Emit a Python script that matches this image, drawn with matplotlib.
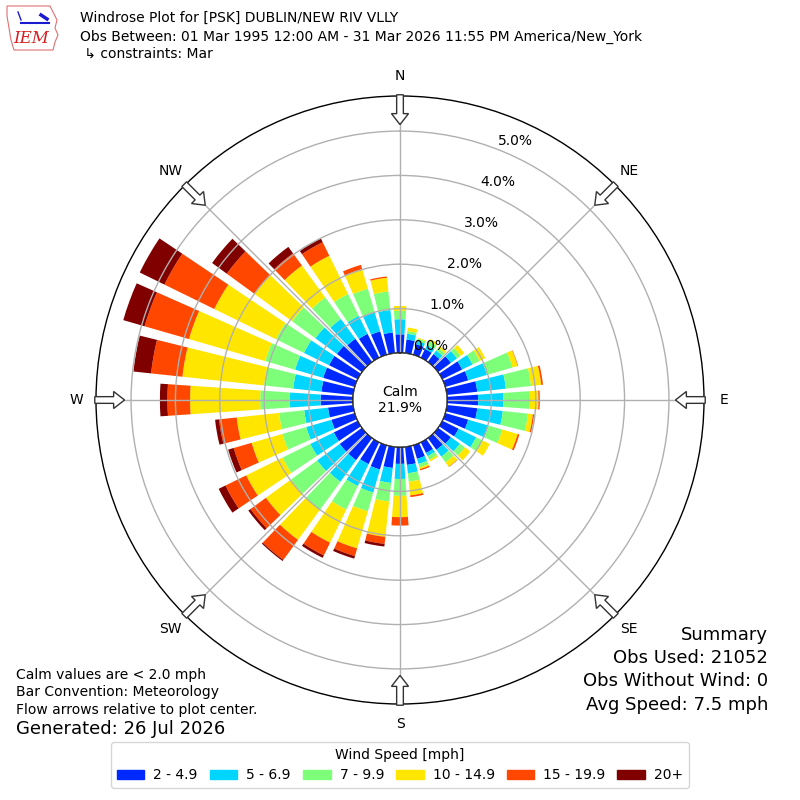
import numpy as np
import matplotlib
matplotlib.use("Agg")
import matplotlib.pyplot as plt
from matplotlib.patches import Circle, FancyArrow, Rectangle, Polygon

# direction of each bar (deg, meteorological: wind coming from)
directions = np.arange(0, 360, 10)

# percent of obs in each speed class, per direction (0, 10, ..., 350)
spd_2_5 = [0.42, 0.31, 0.25, 0.22, 0.22, 0.36, 0.50, 0.54, 0.69, 0.70, 0.69, 0.54,
           0.41, 0.36, 0.33, 0.27, 0.32, 0.41, 0.38, 0.48, 0.57, 0.55, 0.62, 0.62,
           0.60, 0.55, 0.57, 0.73, 0.72, 0.74, 0.72, 0.70, 0.65, 0.60, 0.55, 0.47]
spd_5_7 = [0.34, 0.13, 0.08, 0.10, 0.10, 0.17, 0.26, 0.44, 0.65, 0.57, 0.58, 0.48,
           0.44, 0.25, 0.19, 0.08, 0.12, 0.19, 0.34, 0.34, 0.54, 0.55, 0.60, 0.63,
           0.59, 0.59, 0.54, 0.69, 0.64, 0.66, 0.63, 0.60, 0.55, 0.45, 0.44, 0.51]
spd_7_10 = [0.19, 0.06, 0.05, 0.10, 0.08, 0.10, 0.18, 0.60, 0.57, 0.60, 0.57, 0.32,
            0.17, 0.14, 0.16, 0.09, 0.08, 0.19, 0.38, 0.42, 0.44, 0.59, 0.78, 0.73,
            0.70, 0.56, 0.57, 0.67, 0.66, 0.70, 0.70, 0.65, 0.60, 0.55, 0.56, 0.42]
spd_10_15 = [0.11, 0.08, 0.02, 0.05, 0.05, 0.10, 0.14, 0.12, 0.23, 0.19, 0.11, 0.36,
             0.17, 0.15, 0.12, 0.04, 0.04, 0.31, 0.48, 0.80, 0.87, 0.83, 0.84, 0.70,
             0.91, 0.72, 0.96, 1.58, 1.85, 1.79, 1.55, 1.05, 0.89, 0.96, 0.46, 0.31]
spd_15_20 = [0.00, 0.00, 0.00, 0.00, 0.00, 0.00, 0.00, 0.01, 0.04, 0.03, 0.03, 0.04,
             0.00, 0.00, 0.01, 0.00, 0.03, 0.04, 0.19, 0.16, 0.18, 0.32, 0.56, 0.43,
             0.52, 0.42, 0.40, 0.51, 0.71, 1.04, 1.25, 0.77, 0.34, 0.34, 0.10, 0.03]
spd_20 = [0.00, 0.00, 0.00, 0.00, 0.00, 0.00, 0.00, 0.00, 0.00, 0.00, 0.00, 0.00,
          0.00, 0.00, 0.00, 0.00, 0.00, 0.00, 0.00, 0.06, 0.06, 0.06, 0.03, 0.06,
          0.17, 0.13, 0.09, 0.17, 0.40, 0.50, 0.62, 0.41, 0.18, 0.09, 0.00, 0.00]

speed_labels = ["2 - 4.9", "5 - 6.9", "7 - 9.9", "10 - 14.9", "15 - 19.9", "20+"]
compass = ["N", "NE", "E", "SE", "S", "SW", "W", "NW"]
rticks = [0, 1, 2, 3, 4, 5]
calm_pct = 21.9

bins = [spd_2_5, spd_5_7, spd_7_10, spd_10_15, spd_15_20, spd_20]
colors = plt.cm.jet(np.linspace(0, 1, 7)[1:])

fig = plt.figure(figsize=(8, 8), dpi=100)
ax = fig.add_axes([0.12, 0.12, 0.76, 0.76], projection="polar")
ax.set_theta_zero_location("N")
ax.set_theta_direction(-1)
ax.set_axisbelow(False)

theta = np.deg2rad(directions)
width = np.deg2rad(10) * 0.78
base = np.zeros(len(directions))
for vals, c, lab in zip(bins, colors, speed_labels):
    vals = np.array(vals)
    ax.bar(theta, vals, width=width, bottom=base, color=c, label=lab,
           linewidth=0, zorder=1)
    base = base + vals

rmax = 5.79
r0 = 1.06
ax.set_ylim(0, rmax)
ax.set_rorigin(-r0)
ax.set_yticks(rticks)
ax.set_yticklabels([])
ax.set_xticks(np.deg2rad(np.arange(0, 360, 45)))
ax.set_xticklabels([])
ax.grid(True, color="#b0b0b0", linewidth=1)
ax.spines["polar"].set_linewidth(1)

# radial labels, a little outside each ring along 22.5 deg
for t in rticks:
    rr = (t + r0) / (rmax + r0) * 0.5
    ang = np.deg2rad(22.5)
    ax.text(0.5 + rr * np.sin(ang) + 0.02, 0.5 + rr * np.cos(ang) + 0.018,
            "%.1f%%" % t, transform=ax.transAxes, ha="center", va="center",
            fontsize=10, zorder=4)

# calm circle in the middle
calm_r = r0 / (rmax + r0) * 0.5
ax.add_patch(Circle((0.5, 0.5), calm_r, transform=ax.transAxes, facecolor="white",
                    edgecolor="black", linewidth=1, zorder=3))
ax.text(0.5, 0.5, "Calm\n%.1f%%" % calm_pct, transform=ax.transAxes, ha="center",
        va="center", fontsize=10, zorder=4)

# compass labels and inward flow arrows
for i, name in enumerate(compass):
    a = np.deg2rad(i * 45)
    ax.text(0.5 + 0.533 * np.sin(a), 0.5 + 0.533 * np.cos(a), name,
            transform=ax.transAxes, ha="center", va="center", fontsize=10)
    x0 = 0.5 + 0.502 * np.sin(a)
    y0 = 0.5 + 0.502 * np.cos(a)
    ax.add_patch(FancyArrow(x0, y0, -0.049 * np.sin(a), -0.049 * np.cos(a),
                            width=0.011, head_width=0.028, head_length=0.018,
                            length_includes_head=True, transform=ax.transAxes,
                            facecolor="white", edgecolor="#333333", linewidth=1,
                            clip_on=False, zorder=5))

# header
fig.text(0.1, 0.9775, "Windrose Plot for [PSK] DUBLIN/NEW RIV VLLY", fontsize=10, va="center")
fig.text(0.1, 0.954, "Obs Between: 01 Mar 1995 12:00 AM - 31 Mar 2026 11:55 PM America/New_York",
         fontsize=10, va="center")
fig.text(0.1, 0.9325, " \u21b3 constraints: Mar", fontsize=10, va="center")

# rough IEM logo
outline = np.array([[7, 6], [50, 6], [53, 12], [57, 20], [55, 28], [58, 35],
                    [55, 42], [53, 50], [14, 50], [11, 40], [9, 28], [7, 16]])
fig.add_artist(Polygon(np.column_stack([outline[:, 0] / 800, 1 - outline[:, 1] / 800]),
                       closed=True, fill=False, edgecolor="#e07070", linewidth=0.8,
                       transform=fig.transFigure))
fig.add_artist(plt.Line2D([21 / 800, 49 / 800], [1 - 23 / 800, 1 - 23 / 800],
                          color="#1a1ad0", linewidth=1.5, transform=fig.transFigure))
fig.add_artist(plt.Line2D([41 / 800, 47 / 800], [1 - 15 / 800, 1 - 19 / 800],
                          color="#1a1ad0", linewidth=2.5, transform=fig.transFigure))
fig.add_artist(plt.Line2D([18 / 800, 21 / 800], [1 - 12 / 800, 1 - 20 / 800],
                          color="#1a1ad0", linewidth=1, transform=fig.transFigure))
fig.text(0.0385, 0.952, "IEM", fontsize=12, color="#d42020", style="italic",
         family="serif", ha="center", va="center")

# notes
fig.text(0.02, 0.156, "Calm values are < 2.0 mph", fontsize=10, va="center")
fig.text(0.02, 0.135, "Bar Convention: Meteorology", fontsize=10, va="center")
fig.text(0.02, 0.1125, "Flow arrows relative to plot center.", fontsize=10, va="center")
fig.text(0.02, 0.089, "Generated: 26 Jul 2026", fontsize=13, va="center")

fig.text(0.96, 0.206, "Summary", fontsize=13, ha="right", va="center")
fig.text(0.96, 0.1775, "Obs Used: 21052", fontsize=13, ha="right", va="center")
fig.text(0.96, 0.149, "Obs Without Wind: 0", fontsize=13, ha="right", va="center")
fig.text(0.96, 0.119, "Avg Speed: 7.5 mph", fontsize=13, ha="right", va="center")

handles = [Rectangle((0, 0), 1, 1, color=c) for c in colors]
fig.legend(handles, speed_labels, ncol=6, loc="lower center",
           bbox_to_anchor=(0.5, 0.015), borderaxespad=0, title="Wind Speed [mph]",
           fontsize=10, title_fontsize=10, columnspacing=0.85, handletextpad=0.65)

fig.savefig("out.png", dpi=100)
